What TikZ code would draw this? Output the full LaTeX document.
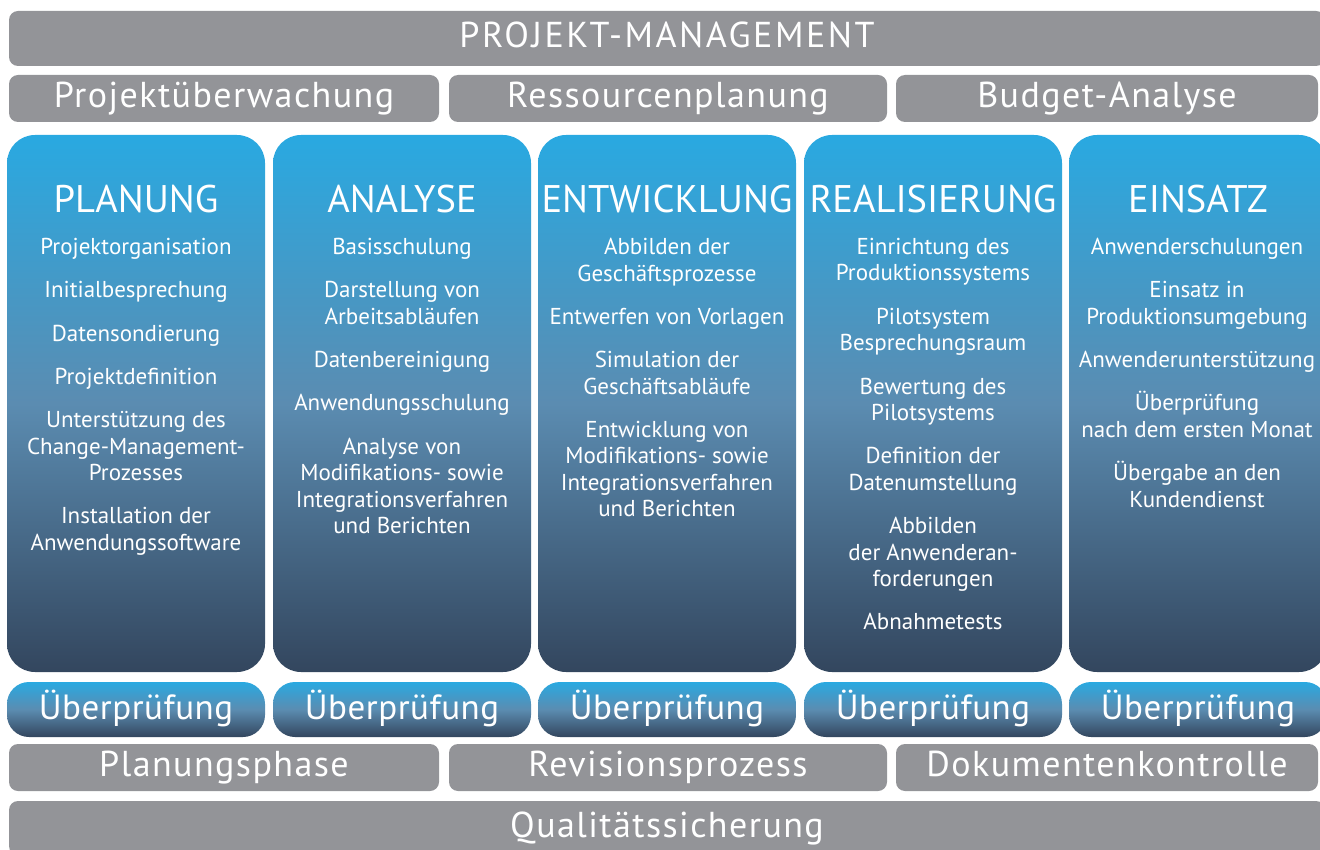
\documentclass[tikz,border=0pt]{standalone}
\usepackage{fontspec}
\setmainfont{PT Sans}
\definecolor{barGray}{HTML}{939498}
\definecolor{phaseTop}{HTML}{29A9E1}
\definecolor{phaseMid}{HTML}{5B8CB1}
\definecolor{phaseBot}{HTML}{33465E}
\tikzset{
  graybar/.style={fill=barGray, rounded corners=9pt, inner sep=0pt, text=white,
    text height=25pt, text depth=7pt,
    font=\fontsize{36}{38}\selectfont\addfontfeature{LetterSpace=4}},
  phasecol/.style={rounded corners=28pt, inner sep=0pt, top color=phaseTop,
    bottom color=phaseBot, middle color=phaseMid, minimum width=258, minimum height=537},
  checkbox/.style={rounded corners=22pt, inner sep=0pt, top color=phaseTop,
    bottom color=phaseBot, middle color=phaseMid, minimum width=258, minimum height=55,
    text=white, text height=25pt, text depth=6pt,
    font=\fontsize{35}{38}\selectfont\addfontfeature{LetterSpace=1.5}},
  coltitle/.style={text=white, anchor=base, inner sep=0pt, font=\fontsize{38.5}{40}\selectfont},
  coltext/.style={text=white, align=center, anchor=north, inner sep=0pt,
    font=\fontsize{23}{26.5}\selectfont},
}
\begin{document}
\begin{tikzpicture}[x=1pt, y=-1pt]
\useasboundingbox (0,0) rectangle (1320,850);
% management bars
\node[graybar, minimum width=1316, minimum height=55, font=\fontsize{36}{38}\selectfont\addfontfeature{LetterSpace=7}] (pm) at (667,38.5) {PROJEKT-MANAGEMENT};
\node[graybar, minimum width=430, minimum height=47] (watch) at (224,98.5) {Projektüberwachung};
\node[graybar, minimum width=438, minimum height=47] (res) at (668,98.5) {Ressourcenplanung};
\node[graybar, minimum width=422, minimum height=47] (budget) at (1107,98.5) {Budget-Analyse};
% phase columns
\node[phasecol] (plan) at (136,403.5) {};
\node[phasecol] (ana) at (402,403.5) {};
\node[phasecol] (dev) at (667,403.5) {};
\node[phasecol] (real) at (933,403.5) {};
\node[phasecol] (use) at (1198,403.5) {};
\node[coltitle] (planT) at (136,213) {PLANUNG};
\node[coltitle] (anaT) at (402,213) {ANALYSE};
\node[coltitle] (devT) at (667,213) {ENTWICKLUNG};
\node[coltitle] (realT) at (933,213) {REALISIERUNG};
\node[coltitle] (useT) at (1198,213) {EINSATZ};
\node[coltext] (planL) at (136,238) {Projektorganisation\\[16.8pt]Initialbesprechung\\[16.8pt]Datensondierung\\[16.8pt]Projektdefinition\\[16.8pt]Unterstützung des\\Change-Management-\\Prozesses\\[16.8pt]Installation der\\Anwendungssoftware};
\node[coltext] (anaL) at (402,238) {Basisschulung\\[16.8pt]Darstellung von\\Arbeitsabläufen\\[16.8pt]Datenbereinigung\\[16.8pt]Anwendungsschulung\\[16.8pt]Analyse von\\Modifikations- sowie\\Integrationsverfahren\\und Berichten};
\node[coltext] (devL) at (667,238) {Abbilden der\\Geschäftsprozesse\\[16.8pt]Entwerfen von Vorlagen\\[16.8pt]Simulation der\\Geschäftsabläufe\\[16.8pt]Entwicklung von\\Modifikations- sowie\\Integrationsverfahren\\und Berichten};
\node[coltext] (realL) at (933,238) {Einrichtung des\\Produktionssystems\\[16.8pt]Pilotsystem\\Besprechungsraum\\[16.8pt]Bewertung des\\Pilotsystems\\[16.8pt]Definition der\\Datenumstellung\\[16.8pt]Abbilden\\der Anwenderan-\\forderungen\\[16.8pt]Abnahmetests};
\node[coltext] (useL) at (1197,238) {Anwenderschulungen\\[16.8pt]Einsatz in\\Produktionsumgebung\\[16.8pt]Anwenderunterstützung\\[16.8pt]Überprüfung\\nach dem ersten Monat\\[16.8pt]Übergabe an den\\Kundendienst};
% review boxes
\node[checkbox] (planC) at (136,709.5) {Überprüfung};
\node[checkbox] (anaC) at (402,709.5) {Überprüfung};
\node[checkbox] (devC) at (667,709.5) {Überprüfung};
\node[checkbox] (realC) at (933,709.5) {Überprüfung};
\node[checkbox] (useC) at (1198,709.5) {Überprüfung};
% quality bars
\node[graybar, minimum width=430, minimum height=47] (phase) at (224,767.5) {Planungsphase};
\node[graybar, minimum width=438, minimum height=47] (rev) at (668,767.5) {Revisionsprozess};
\node[graybar, minimum width=422, minimum height=47] (docs) at (1107,767.5) {Dokumentenkontrolle};
\node[graybar, minimum width=1316, minimum height=54] (qa) at (667,828) {Qualitätssicherung};
\end{tikzpicture}
\end{document}
